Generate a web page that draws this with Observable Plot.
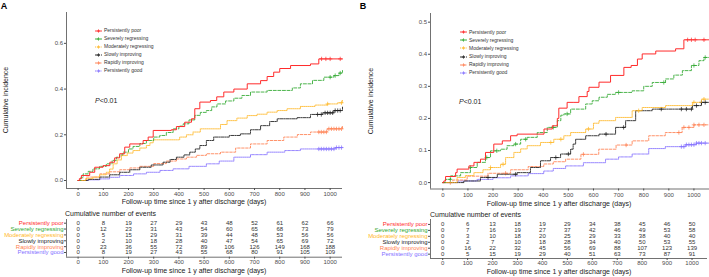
<!DOCTYPE html>
<html><head><meta charset="utf-8">
<script src="https://cdn.jsdelivr.net/npm/d3@7"></script>
<script src="https://cdn.jsdelivr.net/npm/@observablehq/plot@0.6"></script>
<style>
body{margin:0;background:#fff;}
#root{position:relative;width:709px;height:277px;overflow:hidden;font-family:"Liberation Sans",Arial,sans-serif;color:#222;}
.abs{position:absolute;white-space:nowrap;line-height:1;}
.abs svg{overflow:visible;display:block;}
.leg{position:absolute;}
.leg .row{display:flex;align-items:center;white-space:nowrap;font-size:5px;line-height:1;color:#333;}
.leg .row svg{display:block;overflow:visible;margin-right:2px;flex:none;}
</style></head><body><div id="root"></div>
<script>
// ---------- categories & styles ----------
const groups = ["Persistently poor","Severely regressing","Moderately regressing","Slowly improving","Rapidly improving","Persistently good"];
const colors = ["#FF2B2B","#2EA82E","#FFB828","#1A1A1A","#FF7F50","#8470FF"];
const dashes = ["none","3,1.6","1,0.9","3,1,1,1","2.5,1.5","1.6,0.9,0.6,0.9"];
const xTicks = [0,100,200,300,400,500,600,700,800,900,1000];
const yTicksA = [0,0.2,0.4,0.6];
const yTicksB = [0,0.1,0.2,0.3,0.4,0.5];

// ---------- Panel A curves [day, cumulative incidence] ----------
const A_poor = [[0,0],[5,0.008],[13,0.022],[46,0.036],[66,0.058],[99,0.065],[126,0.08],[145,0.099],[165,0.117],[185,0.146],[205,0.16],[258,0.175],[278,0.19],[298,0.219],[370,0.222],[390,0.236],[423,0.255],[450,0.27],[463,0.314],[483,0.343],[525,0.35],[550,0.366],[578,0.387],[618,0.40],[671,0.423],[724,0.437],[750,0.455],[776,0.474],[800,0.49],[843,0.503],[922,0.51],[955,0.532],[1049,0.532]];
const A_sev = [[0,0],[10,0.012],[20,0.029],[40,0.04],[59,0.051],[85,0.062],[112,0.073],[135,0.088],[152,0.102],[165,0.112],[178,0.124],[200,0.138],[218,0.149],[245,0.162],[271,0.175],[300,0.19],[324,0.197],[350,0.21],[377,0.226],[400,0.238],[417,0.248],[440,0.265],[463,0.285],[485,0.298],[509,0.306],[530,0.322],[551,0.335],[585,0.348],[618,0.36],[650,0.372],[684,0.387],[750,0.394],[829,0.394],[850,0.405],[882,0.423],[930,0.438],[975,0.452],[1015,0.459],[1035,0.47],[1049,0.481]];
const A_mod = [[0,0],[30,0.008],[59,0.015],[85,0.025],[112,0.036],[125,0.05],[139,0.073],[155,0.09],[172,0.109],[195,0.12],[218,0.131],[245,0.142],[271,0.153],[285,0.165],[298,0.178],[350,0.178],[403,0.19],[430,0.2],[456,0.212],[485,0.226],[538,0.226],[565,0.245],[591,0.262],[630,0.273],[671,0.284],[710,0.29],[750,0.299],[790,0.306],[829,0.314],[882,0.324],[940,0.33],[988,0.335],[1030,0.34],[1049,0.35]];
const A_slow = [[0,0],[40,0.005],[86,0.015],[125,0.025],[165,0.036],[205,0.047],[245,0.058],[290,0.068],[337,0.08],[365,0.092],[390,0.102],[420,0.112],[443,0.124],[465,0.138],[483,0.153],[509,0.175],[538,0.19],[600,0.197],[644,0.204],[684,0.222],[724,0.24],[760,0.258],[790,0.27],[869,0.275],[922,0.289],[970,0.296],[1015,0.306],[1049,0.321]];
const A_rapid = [[0,0],[33,0.015],[86,0.029],[125,0.038],[165,0.047],[205,0.055],[245,0.062],[300,0.074],[350,0.085],[390,0.094],[430,0.102],[470,0.11],[509,0.117],[565,0.124],[625,0.142],[684,0.16],[750,0.175],[816,0.19],[870,0.201],[922,0.212],[988,0.226],[1049,0.236]];
const A_good = [[0,0],[40,0.003],[86,0.007],[125,0.014],[165,0.022],[220,0.029],[271,0.036],[325,0.044],[377,0.051],[440,0.062],[509,0.073],[560,0.085],[618,0.102],[684,0.113],[750,0.124],[820,0.131],[882,0.138],[988,0.138],[1020,0.144],[1049,0.149]];

// ---------- Panel B curves ----------
const B_poor = [[0,0],[4,0.005],[11,0.019],[51,0.031],[57,0.042],[104,0.052],[124,0.063],[150,0.073],[170,0.094],[203,0.12],[237,0.13],[270,0.146],[296,0.151],[376,0.151],[403,0.167],[436,0.177],[456,0.2],[462,0.232],[495,0.25],[522,0.25],[542,0.268],[575,0.284],[582,0.297],[622,0.313],[668,0.334],[721,0.359],[750,0.365],[775,0.385],[794,0.401],[848,0.41],[927,0.417],[960,0.445],[1062,0.445]];
const B_sev = [[0,0],[10,0.01],[31,0.021],[71,0.031],[110,0.047],[137,0.063],[170,0.078],[190,0.099],[230,0.104],[256,0.115],[283,0.12],[310,0.135],[336,0.141],[376,0.156],[416,0.172],[456,0.193],[470,0.21],[482,0.214],[509,0.229],[569,0.245],[595,0.255],[622,0.266],[655,0.275],[688,0.281],[754,0.286],[800,0.3],[834,0.312],[887,0.323],[920,0.335],[954,0.349],[990,0.365],[1020,0.38],[1040,0.39],[1062,0.396]];
const B_mod = [[0,0],[57,0.016],[90,0.022],[124,0.031],[160,0.04],[190,0.047],[230,0.057],[250,0.078],[283,0.094],[310,0.105],[336,0.115],[389,0.125],[442,0.135],[482,0.146],[509,0.156],[569,0.167],[600,0.185],[622,0.193],[688,0.203],[754,0.224],[794,0.234],[887,0.24],[994,0.25],[1030,0.26],[1062,0.271]];
const B_slow = [[0,0],[84,0.005],[150,0.016],[217,0.026],[296,0.031],[349,0.047],[389,0.068],[429,0.078],[469,0.089],[509,0.104],[519,0.12],[529,0.135],[569,0.146],[622,0.151],[688,0.172],[728,0.193],[768,0.224],[834,0.229],[927,0.229],[994,0.24],[1030,0.25],[1062,0.26]];
const B_rapid = [[0,0],[40,0.008],[97,0.02],[180,0.029],[270,0.04],[340,0.05],[402,0.058],[440,0.065],[489,0.073],[550,0.088],[621,0.104],[690,0.117],[754,0.13],[820,0.146],[886,0.156],[953,0.172],[1000,0.18],[1062,0.187]];
const B_good = [[0,0],[60,0.005],[137,0.01],[200,0.015],[270,0.021],[340,0.028],[402,0.036],[440,0.044],[489,0.052],[560,0.062],[648,0.073],[700,0.08],[754,0.089],[820,0.106],[886,0.112],[966,0.118],[1010,0.123],[1062,0.128]];

// ---------- censoring times (days) ----------
const A_cens = [[966,983,1000,1040],[1000,1020,1040],[990,1045],[950,965,980,990,1000,1010,1020,1030,1040],[955,965,975,985,995,1005,1015,1025,1035,1045],[955,965,975,985,995,1005,1015,1025,1035,1045]];
const B_cens = [[975,990,1005,1040],[30,110,175,215,290,330,440,495,700,880,1000,1045],[190,240,430,470,580,780,1000,1040],[180,290,450,500,650,720,870,950,970,990,1010,1030,1045],[30,250,560,730,940,960,980,1000,1020,1040],[950,960,970,980,990,1000,1010,1020,1030,1045]];

// ---------- cumulative number of events ----------
const A_events_poor = [0,8,19,27,29,43,48,52,61,62,66];
const A_events_sev = [0,12,23,31,43,54,60,65,68,73,79];
const A_events_mod = [0,5,15,29,31,39,44,48,53,56,56];
const A_events_slow = [0,2,10,18,28,40,47,54,65,69,72];
const A_events_rapid = [0,23,36,55,72,89,106,126,149,168,188];
const A_events_good = [0,8,19,27,43,55,68,80,91,105,109];
const B_events_poor = [0,6,13,18,19,29,34,38,45,46,50];
const B_events_sev = [0,7,16,19,27,37,42,46,49,53,58];
const B_events_mod = [0,3,10,18,20,25,29,33,38,40,40];
const B_events_slow = [0,2,7,10,18,28,34,40,50,53,55];
const B_events_rapid = [0,16,22,32,45,56,69,88,107,123,139];
const B_events_good = [0,5,15,19,29,40,51,63,73,87,91];

const xTitle = "Follow-up time since 1 y after discharge (days)";
const yTitle = "Cumulative incidence";
const tableTitle = "Cumulative number of events";
const pText = "<i>P</i>&lt;0.01";

const root = document.getElementById("root");
const FONT = '"Liberation Sans", Arial, sans-serif';
const fmtX = d3.format("d");

function stepAt(pts, d) { let v = pts[0][1]; for (const [x, y] of pts) { if (x <= d) v = y; else break; } return v; }

function place(node, left, top) {
  const w = document.createElement("div"); w.className = "abs";
  w.style.left = left + "px"; w.style.top = top + "px";
  w.appendChild(node); root.appendChild(w); return w;
}
function label(html, cx, cy, size, opts = {}) {
  const d = document.createElement("div"); d.className = "abs";
  d.innerHTML = html; d.style.fontSize = size + "px";
  d.style.left = cx + "px"; d.style.top = cy + "px";
  const ax = opts.anchor === "start" ? "0" : "-50%";
  d.style.transform = `translate(${ax},-50%)` + (opts.rotate ? ` rotate(${opts.rotate}deg)` : "");
  if (opts.bold) d.style.fontWeight = "bold";
  if (opts.color) d.style.color = opts.color;
  root.appendChild(d); return d;
}

function mainPlot(cfg) {
  const marks = [
    Plot.ruleX([cfg.xd[0]], {stroke: "#333", strokeWidth: 0.7}),
    Plot.ruleY([cfg.yd[0]], {stroke: "#333", strokeWidth: 0.7}),
    Plot.axisX({ticks: xTicks, tickSize: 2, tickPadding: 1.5, tickFormat: fmtX, label: null, fontSize: 6, color: "#4d4d4d"}),
    Plot.axisY({ticks: cfg.yTicks, tickSize: 2, tickPadding: 1.5, tickFormat: d3.format(".1f"), label: null, fontSize: 6, color: "#4d4d4d"})
  ];
  [5,4,3,2,1,0].forEach(i => {
    const pts = cfg.series[i].map(([day, v]) => ({day, v}));
    marks.push(Plot.line(pts, {x: "day", y: "v", curve: "step-after", stroke: colors[i], strokeWidth: i === 0 ? 1 : 0.85, strokeDasharray: dashes[i]}));
    const cens = cfg.cens[i].map(day => ({day, v: stepAt(cfg.series[i], day)}));
    marks.push(Plot.dot(cens, {x: "day", y: "v", symbol: "plus", r: 1.5, stroke: colors[i], strokeWidth: 0.7}));
  });
  return Plot.plot({
    width: cfg.width, height: 210,
    marginLeft: cfg.ml, marginRight: cfg.mr, marginTop: cfg.mt, marginBottom: cfg.mb,
    x: {domain: cfg.xd}, y: {domain: cfg.yd},
    style: {fontFamily: FONT, fontSize: "6px", background: "transparent", color: "#4d4d4d", overflow: "visible"},
    marks
  });
}

function tablePlot(cfg) {
  const rows = [];
  cfg.events.forEach((arr, r) => arr.forEach((n, j) => rows.push({day: xTicks[j], row: r, n})));
  const labs = groups.map((g, i) => ({g, row: i, c: colors[i]}));
  return Plot.plot({
    width: cfg.width, height: 62,
    marginLeft: cfg.ml, marginRight: cfg.mr, marginTop: cfg.mt, marginBottom: cfg.mb,
    x: {domain: cfg.xd}, y: {domain: cfg.yd}, color: {type: "identity"},
    style: {fontFamily: FONT, fontSize: "6px", background: "transparent", color: "#4d4d4d", overflow: "visible"},
    marks: [
      Plot.ruleX([cfg.xd[0]], {stroke: "#333", strokeWidth: 0.7}),
      Plot.ruleY([cfg.yd[0]], {stroke: "#333", strokeWidth: 0.7}),
      Plot.axisX({ticks: xTicks, tickSize: 2, tickPadding: 0.5, tickFormat: fmtX, label: null, fontSize: 6, color: "#4d4d4d"}),
      Plot.axisY({ticks: [0,1,2,3,4,5], tickSize: 2, tickFormat: () => "", label: null}),
      Plot.text(rows, {x: "day", y: "row", text: "n", fontSize: 6, fill: "#333"}),
      Plot.text(labs, {x: () => cfg.xd[0], y: "row", text: "g", fill: "c", textAnchor: "end", dx: -3, fontSize: 6})
    ]
  });
}

function legend(sampleX, top, step) {
  const box = document.createElement("div"); box.className = "leg";
  box.style.left = sampleX + "px"; box.style.top = (top - step / 2) + "px";
  groups.forEach((g, i) => {
    const row = document.createElement("div"); row.className = "row";
    row.style.height = step + "px";
    const s = document.createElementNS("http://www.w3.org/2000/svg", "svg");
    s.setAttribute("width", 7); s.setAttribute("height", 4);
    s.innerHTML = `<line x1="0" y1="2" x2="7" y2="2" stroke="${colors[i]}" stroke-width="0.9" stroke-dasharray="${dashes[i]}"/>` +
      `<line x1="3.5" y1="0.4" x2="3.5" y2="3.6" stroke="${colors[i]}" stroke-width="0.8"/><line x1="1.9" y1="2" x2="5.1" y2="2" stroke="${colors[i]}" stroke-width="0.8"/>`;
    row.appendChild(s);
    const t = document.createElement("span"); t.textContent = g; row.appendChild(t);
    box.appendChild(row);
  });
  root.appendChild(box);
}

// ---------- Panel A ----------
const xdA = [-46, 1049], ydA = [-0.035, 0.735];
place(mainPlot({width: 350, ml: 66, mr: 8, mt: 12, mb: 22, xd: xdA, yd: ydA, yTicks: yTicksA,
  series: [A_poor, A_sev, A_mod, A_slow, A_rapid, A_good], cens: A_cens}), 0, 0);
place(tablePlot({width: 350, ml: 66, mr: 8, mt: 4, mb: 20.3, xd: xdA, yd: [5.8, -0.63],
  events: [A_events_poor, A_events_sev, A_events_mod, A_events_slow, A_events_rapid, A_events_good]}), 0, 215);
label("A", 4, 6, 9, {bold: true, color: "#000"});
label(yTitle, 5, 100, 7, {rotate: -90});
label(xTitle, 194, 200.5, 7);
label(tableTitle, 65, 212.7, 7, {anchor: "start"});
label(xTitle, 194, 270, 7);
label(pText, 95, 100, 7, {anchor: "start"});
legend(95, 30.7, 8.06);

// ---------- Panel B ----------
const xdB = [-49, 1062], ydB = [-0.02, 0.527];
place(mainPlot({width: 349, ml: 70, mr: 0, mt: 13, mb: 21.5, xd: xdB, yd: ydB, yTicks: yTicksB,
  series: [B_poor, B_sev, B_mod, B_slow, B_rapid, B_good], cens: B_cens}), 360, 0);
place(tablePlot({width: 349, ml: 70, mr: 2, mt: 4, mb: 19, xd: xdB, yd: [5.73, -0.83],
  events: [B_events_poor, B_events_sev, B_events_mod, B_events_slow, B_events_rapid, B_events_good]}), 360, 215);
label("B", 363, 6, 9, {bold: true, color: "#000"});
label(yTitle, 370, 101, 7, {rotate: -90});
label(xTitle, 559, 202.5, 7);
label(tableTitle, 430, 214, 7, {anchor: "start"});
label(xTitle, 559, 270.5, 7);
label(pText, 459, 101, 7, {anchor: "start"});
legend(460, 32.3, 8.08);
</script></body></html>
